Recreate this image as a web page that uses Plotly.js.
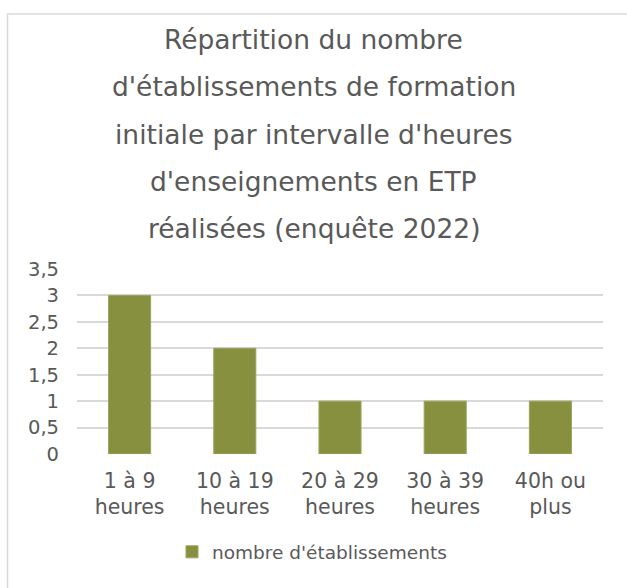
<!DOCTYPE html>
<html>
<head>
<meta charset="utf-8">
<script src="https://cdn.plot.ly/plotly-3.0.1.min.js"></script>
<style>
  html, body { margin: 0; padding: 0; background: #ffffff; overflow: hidden; }
  #chart { width: 627px; height: 588px; }
</style>
</head>
<body>
<div id="chart"></div>
<script>
// ---- Data ----
const categories = ["1 à 9<br>heures", "10 à 19<br>heures", "20 à 29<br>heures", "30 à 39<br>heures", "40h ou<br>plus"];
const values = [3, 2, 1, 1, 1];
const seriesName = "nombre d'établissements";
const titleLines = [
  "Répartition du nombre",
  "d'établissements de formation",
  "initiale par intervalle d'heures",
  "d'enseignements en ETP",
  "réalisées (enquête 2022)"
];
const yTickVals = [0, 0.5, 1, 1.5, 2, 2.5, 3, 3.5];
const yTickText = ["0", "0,5", "1", "1,5", "2", "2,5", "3", "3,5"];

// ---- Layout geometry (pixels) ----
const W = 627, H = 588;
const plotL = 77, plotR = 603, plotT = 268.5, plotB = 454.3;
const pw = plotR - plotL, ph = plotB - plotT;
const px2x = x => (x - plotL) / pw;
const py2y = y => (plotB - y) / ph;

const textColor = "#595959";
const fontFam = "'DejaVu Sans', sans-serif";

const titleCenters = [38, 85.5, 133, 180.5, 228];
const annotations = titleLines.map((t, i) => ({
  text: t,
  xref: "paper", yref: "paper",
  x: px2x(313.5), y: py2y(titleCenters[i]),
  xanchor: "center", yanchor: "middle",
  showarrow: false,
  font: { family: fontFam, size: 26.5, color: textColor }
}));

const trace = {
  type: "bar",
  x: categories,
  y: values,
  name: seriesName,
  marker: { color: "#86903F", line: { color: "#9ba35c", width: 1 } },
  hoverinfo: "x+y"
};

const layout = {
  width: W, height: H,
  margin: { l: plotL, r: W - plotR, t: plotT, b: H - plotB, pad: 0 },
  paper_bgcolor: "#ffffff",
  plot_bgcolor: "#ffffff",
  bargap: 0.6,
  showlegend: true,
  legend: {
    orientation: "h",
    x: px2x(312), xanchor: "center",
    y: py2y(553), yanchor: "middle",
    font: { family: fontFam, size: 18.5, color: textColor },
    bgcolor: "rgba(0,0,0,0)"
  },
  xaxis: {
    type: "category",
    showgrid: false,
    showline: false,
    zeroline: false,
    ticks: "",
    tickfont: { family: fontFam, size: 20.5, color: textColor },
    ticklabelstandoff: 12
  },
  yaxis: {
    range: [0, 3.5],
    tickvals: yTickVals,
    ticktext: yTickText,
    showgrid: true,
    gridcolor: "#d9d9d9",
    gridwidth: 1.5,
    zeroline: false,
    showline: false,
    ticks: "",
    tickfont: { family: fontFam, size: 19.5, color: textColor },
    ticklabelstandoff: 17
  },
  annotations: annotations,
  shapes: [{
    type: "path",
    xref: "paper", yref: "paper",
    path: `M ${px2x(7.5)},${py2y(700)} L ${px2x(7.5)},${py2y(12.5)} L ${px2x(700)},${py2y(12.5)}`,
    line: { color: "#d9d9d9", width: 1.5 }
  }]
};

Plotly.newPlot("chart", [trace], layout, { displayModeBar: false, responsive: false });
</script>
</body>
</html>
